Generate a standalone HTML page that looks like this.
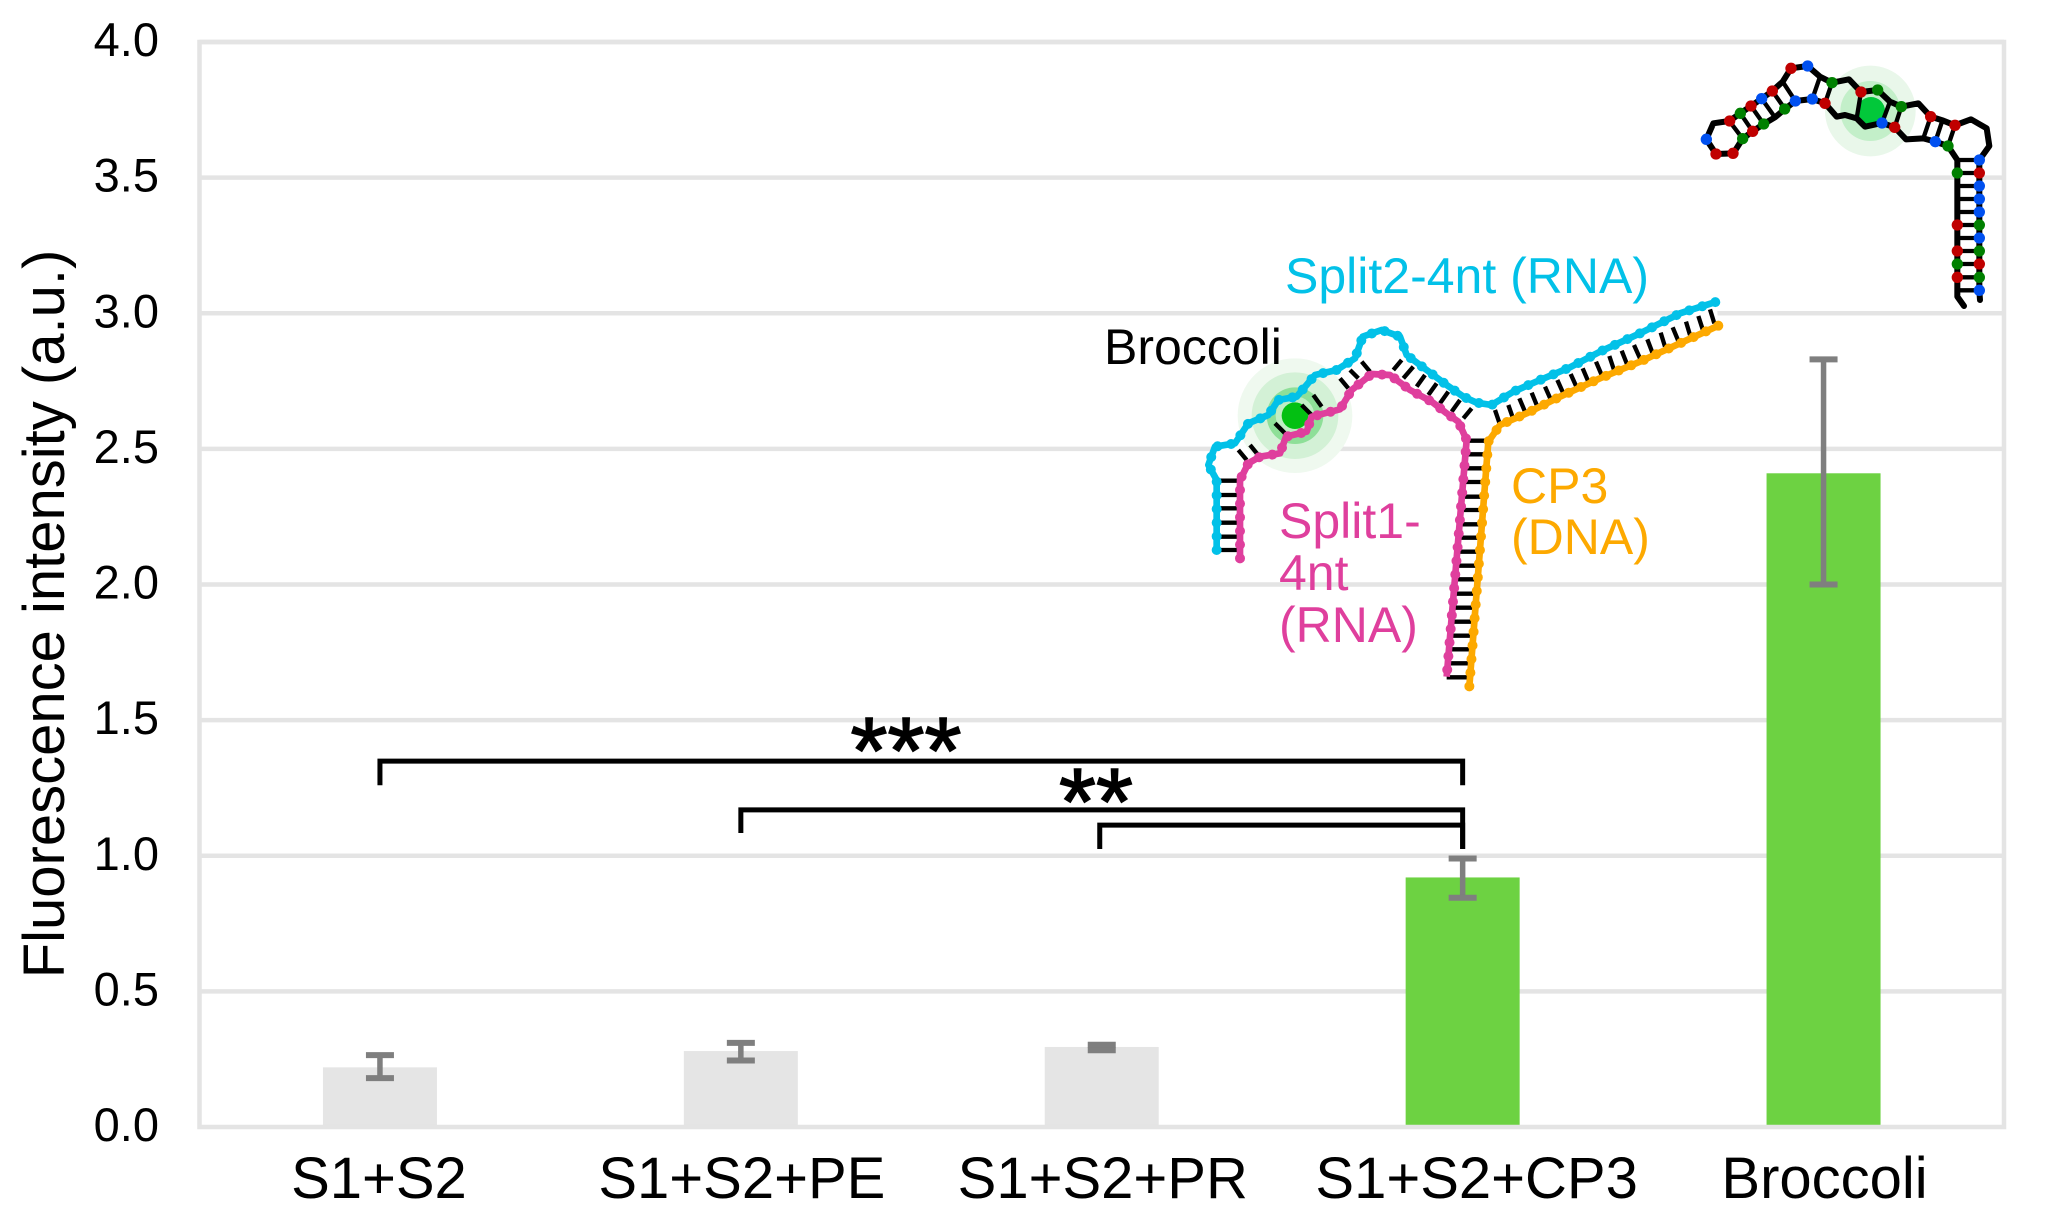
<!DOCTYPE html>
<html lang="en">
<head>
<meta charset="utf-8">
<title>Fluorescence intensity chart</title>
<style>
html,body{margin:0;padding:0;background:#fff;}
svg{display:block;font-family:"Liberation Sans",Arial,sans-serif;}
</style>
</head>
<body>
<svg id="chart" xmlns="http://www.w3.org/2000/svg" width="2046" height="1220" viewBox="0 0 2046 1220">
  <rect x="0" y="0" width="2046" height="1220" fill="#fff"/>
  <g id="grid"></g>
  <g id="bars"></g>
  <g id="axes"></g>
  <g id="errors"></g>
  <g id="ylabels" font-size="47" fill="#000" text-anchor="end"></g>
  <g id="xlabels" font-size="58" fill="#000" text-anchor="middle"></g>
  <text transform="translate(64,614) rotate(-90)" font-size="58" text-anchor="middle" fill="#000">Fluorescence intensity (a.u.)</text>
  <g id="brackets" fill="none" stroke="#000" stroke-width="5"></g>
  <text x="906" y="783" font-size="95" text-anchor="middle" fill="#000" stroke="#000" stroke-width="1.5">***</text>
  <text x="1096" y="834" font-size="95" text-anchor="middle" fill="#000" stroke="#000" stroke-width="1.5">**</text>

  <!-- Split Broccoli schematic -->
  <g transform="translate(1180,250) scale(0.33333)">
    <polygon fill="#fff" points="110,900 110,690 85,645 105,590 165,580 205,520 265,495 295,450 350,440 405,375 470,360 525,325 548,260 605,240 660,260 680,315 740,360 800,405 850,440 890,458 935,465 1000,425 1080,390 1170,352 1260,305 1380,250 1500,190 1610,155 1615,227 1500,280 1380,335 1260,385 1140,440 1040,490 960,525 925,575 868,1310 800,1280 858,570 835,515 800,490 755,455 690,420 630,375 575,372 515,420 480,478 395,500 380,545 318,560 300,610 240,620 205,640 180,690 180,925"/>
    <g>
      <circle cx="345" cy="497" r="172" fill="#eff9ef"/>
      <circle cx="345" cy="497" r="130" fill="#d3f1d6"/>
      <circle cx="345" cy="497" r="85" fill="#8edf98"/>
      <circle cx="345" cy="497" r="58" fill="#c0eec4"/>
      <circle cx="345" cy="497" r="40" fill="#03c012"/>
    </g>
    <path fill="none" stroke="#000" stroke-width="13" d="M110 692H180M110 735H180M110 775H180M110 818H180M110 860H180M110 900H180M175 600L200 630M210 585L232 612M285 520L315 550M365 465L395 495M400 435L425 470M480 385L505 415M510 360L535 385M545 335L570 365M640 360L665 330M670 385L700 350M710 410L735 375M745 435L770 400M780 460L805 425M815 485L840 450M850 505L875 475"/>
    <g transform="translate(600,90)">
      <path fill="none" stroke="#000" stroke-width="13" d="M258 482H325M254 523H322M251 565H318M248 606H315M244 650H311M241 690H308M237 733H305M234 773H301M231 815H298M227 857H295M224 898H291M220 941H288M217 983H285M213 1025H281M210 1067H278M207 1108H275M203 1150H271M200 1192H268M345 390L358 428M385 375L398 412M418 355L435 395M455 338L470 375M495 320L512 358M532 300L550 340M572 282L590 322M608 265L625 305M648 245L665 285M688 228L702 270M725 212L742 255M762 195L780 235M802 178L818 220M842 158L855 200M878 142L895 183M918 125L930 165M955 108L968 148M990 88L1003 130"/>
    </g>
    <g fill="none" stroke="#df3f9d" stroke-linejoin="round">
      <polyline stroke-width="20" points="180,925 180,690 205,640 240,620 300,610 318,560 380,545 395,500 480,478 515,420 575,372 630,375 690,420 755,455 800,490 835,515 860,570 800,1280"/>
      <polyline stroke-width="30" stroke-linecap="round" stroke-dasharray="0 41" points="180,925 180,690 205,640 240,620 300,610 318,560 380,545 395,500 480,478 515,420 575,372 630,375 690,420 755,455 800,490 835,515 860,570 800,1280"/>
    </g>
    <g fill="none" stroke="#02c1e8" stroke-linejoin="round">
      <polyline stroke-width="20" points="110,900 110,690 85,645 105,590 165,580 205,520 265,495 295,450 350,440 405,375 470,360 525,325 548,260 605,240 660,260 680,315 740,360 800,405 850,440 890,458 935,465 1000,425 1080,390 1170,352 1260,305 1380,250 1500,190 1610,155"/>
      <polyline stroke-width="30" stroke-linecap="round" stroke-dasharray="0 41" points="110,900 110,690 85,645 105,590 165,580 205,520 265,495 295,450 350,440 405,375 470,360 525,325 548,260 605,240 660,260 680,315 740,360 800,405 850,440 890,458 935,465 1000,425 1080,390 1170,352 1260,305 1380,250 1500,190 1610,155"/>
    </g>
    <g fill="none" stroke="#fda900" stroke-linejoin="round">
      <polyline stroke-width="20" points="1615,227 1500,280 1380,335 1260,385 1140,440 1040,490 960,525 925,575 868,1310"/>
      <polyline stroke-width="30" stroke-linecap="round" stroke-dasharray="0 41" points="1615,227 1500,280 1380,335 1260,385 1140,440 1040,490 960,525 925,575 868,1310"/>
    </g>
  </g>

  <text x="1285" y="293" font-size="50" fill="#02c1e8">Split2-4nt (RNA)</text>
  <text x="1104" y="364" font-size="50" fill="#000">Broccoli</text>
  <text font-size="50" fill="#df3f9d"><tspan x="1279" y="538">Split1-</tspan><tspan x="1279" y="590">4nt</tspan><tspan x="1279" y="642">(RNA)</tspan></text>
  <text font-size="50" fill="#fda900"><tspan x="1511" y="503">CP3</tspan><tspan x="1511" y="554">(DNA)</tspan></text>

  <!-- Intact Broccoli schematic -->
  <g transform="translate(1660,30) scale(0.33333)">
    <polygon fill="#fff" points="892,800 892,390 864,348 826,335 738,328 704,292 666,279 615,290 590,265 530,260 495,220 457,207 406,213 345,262 278,304 248,326 220,370 168,372 139,328 160,280 208,273 305,206 368,155 393,115 443,108 480,140 516,158 567,148 603,186 653,180 690,215 724,230 775,220 812,260 885,286 933,268 980,295 988,348 958,390 958,800"/>
    <g>
      <circle cx="631" cy="243" r="136" fill="#e9f7ea"/>
      <circle cx="631" cy="243" r="90" fill="#c3efc9"/>
      <circle cx="633" cy="243" r="42" fill="#02c83a"/>
    </g>
    <path fill="none" stroke="#000" stroke-width="13" d="M892 390H958M892 429H958M892 468H958M892 507H958M892 546H958M892 585H958M892 624H958M892 663H958M892 702H958M892 742H958M892 781H958M885 286L864 348M847 272L826 335M812 260L790 325M724 230L704 292M690 215L666 279M603 186L590 265M516 158L495 220M480 140L457 207M368 155L406 213M337 183L375 237M305 206L345 262M273 228L311 282M241 250L278 304M208 273L248 326"/>
    <polyline fill="none" stroke="#000" stroke-width="18" stroke-linejoin="round" stroke-linecap="round" points="912,828 892,800 892,390 864,348 826,335 790,325 738,328 704,292 666,279 615,290 590,265 555,255 530,260 495,220 457,207 406,213 375,237 345,262 311,282 278,304 248,326 220,370 168,372 139,328 160,280 208,273 241,250 273,228 305,206 337,183 368,155 393,115 443,108 480,140 516,158 567,148 603,186 653,180 690,215 724,230 775,220 812,260 850,272 885,286 933,268 980,295 988,348 958,390 958,782 960,810"/>
    <g fill="#c00000">
      <circle cx="393" cy="115" r="17"/><circle cx="168" cy="372" r="17"/><circle cx="219" cy="370" r="17"/><circle cx="209" cy="273" r="17"/><circle cx="273" cy="228" r="17"/><circle cx="337" cy="183" r="17"/><circle cx="278" cy="304" r="17"/><circle cx="495" cy="220" r="17"/><circle cx="603" cy="186" r="17"/><circle cx="704" cy="292" r="17"/><circle cx="812" cy="260" r="17"/><circle cx="885" cy="286" r="17"/><circle cx="958" cy="429" r="17"/><circle cx="892" cy="585" r="17"/><circle cx="892" cy="663" r="17"/><circle cx="958" cy="702" r="17"/><circle cx="892" cy="742" r="17"/>
    </g>
    <g fill="#0050f0">
      <circle cx="443" cy="108" r="17"/><circle cx="139" cy="328" r="17"/><circle cx="305" cy="206" r="17"/><circle cx="406" cy="213" r="17"/><circle cx="457" cy="207" r="17"/><circle cx="666" cy="279" r="17"/><circle cx="826" cy="335" r="17"/><circle cx="958" cy="390" r="17"/><circle cx="958" cy="468" r="17"/><circle cx="958" cy="507" r="17"/><circle cx="958" cy="546" r="17"/><circle cx="958" cy="624" r="17"/><circle cx="958" cy="781" r="17"/>
    </g>
    <g fill="#008000">
      <circle cx="516" cy="158" r="17"/><circle cx="653" cy="180" r="17"/><circle cx="241" cy="250" r="17"/><circle cx="374" cy="237" r="17"/><circle cx="311" cy="282" r="17"/><circle cx="248" cy="326" r="17"/><circle cx="724" cy="230" r="17"/><circle cx="864" cy="348" r="17"/><circle cx="892" cy="429" r="17"/><circle cx="958" cy="585" r="17"/><circle cx="958" cy="663" r="17"/><circle cx="892" cy="702" r="17"/><circle cx="958" cy="742" r="17"/>
    </g>
  </g>
</svg>
<script>
const categories = ["S1+S2", "S1+S2+PE", "S1+S2+PR", "S1+S2+CP3", "Broccoli"];
const means = [0.22, 0.28, 0.295, 0.92, 2.41];
const errLow = [0.18, 0.245, 0.283, 0.845, 2.0];
const errHigh = [0.265, 0.31, 0.303, 0.99, 2.83];
const barGroups = ["control", "control", "control", "active", "active"];
const yTickValues = [0, 0.5, 1, 1.5, 2, 2.5, 3, 3.5, 4];
const yTickLabels = ["0.0", "0.5", "1.0", "1.5", "2.0", "2.5", "3.0", "3.5", "4.0"];
const bracketFrom = [0, 1, 2];
const bracketTo = [3, 3, 3];
const bracketLevel = [1.349, 1.169, 1.113];
const bracketFoot = [1.26, 1.084, 1.025];

const NS = "http://www.w3.org/2000/svg";
const plotLeft = 199.5, plotRight = 2004, plotTop = 42, plotBottom = 1127;
const yMax = 4, barWidth = 114, capWidth = 28;
function yScale(v) { return plotBottom - (v / yMax) * (plotBottom - plotTop); }
function xScale(i) { return plotLeft + (i + 0.5) * (plotRight - plotLeft) / categories.length; }
function labelShift(i) { return i === 3 ? 14 : (i === 0 ? -1 : 1); }
function make(tag, attrs) {
  const el = document.createElementNS(NS, tag);
  for (const k in attrs) el.setAttribute(k, attrs[k]);
  return el;
}
const gridG = document.getElementById("grid");
const barsG = document.getElementById("bars");
const axesG = document.getElementById("axes");
const errorsG = document.getElementById("errors");
const yLabG = document.getElementById("ylabels");
const xLabG = document.getElementById("xlabels");
const brG = document.getElementById("brackets");
const frameColor = "#e4e4e4";

yTickValues.forEach(function (v, i) {
  if (v !== 0) {
    const g = make("line", {x1: plotLeft, x2: plotRight, y1: yScale(v), y2: yScale(v), stroke: frameColor, "stroke-width": 4.5});
    
    
    gridG.appendChild(g);
  }
  const t = make("text", {x: 159, y: yScale(v) + 14});
  
  
  t.textContent = yTickLabels[i];
  yLabG.appendChild(t);
});

categories.forEach(function (c, i) {
  const cx = xScale(i);
  const b = make("rect", {x: cx - barWidth / 2, y: yScale(means[i]), width: barWidth, height: yScale(0) - yScale(means[i]), fill: barGroups[i] === "active" ? "#6dd242" : "#e5e5e5"});
  
  
  barsG.appendChild(b);

  const stem = make("line", {x1: cx, x2: cx, y1: yScale(errHigh[i]), y2: yScale(errLow[i]), stroke: "#7f7f7f", "stroke-width": 5.5});
  
  
  errorsG.appendChild(stem);
  [errHigh[i], errLow[i]].forEach(function (e) {
    const cap = make("line", {x1: cx - capWidth / 2, x2: cx + capWidth / 2, y1: yScale(e), y2: yScale(e), stroke: "#7f7f7f", "stroke-width": 6});
    
    
    errorsG.appendChild(cap);
  });

  const t = make("text", {x: cx + labelShift(i), y: 1198});
  
  
  t.textContent = c;
  xLabG.appendChild(t);
});

const frame = make("path", {d: "M" + plotLeft + " " + plotBottom + "V" + plotTop + "H" + plotRight + "V" + plotBottom + "Z", fill: "none", stroke: frameColor, "stroke-width": 4.5});


axesG.appendChild(frame);

bracketFrom.forEach(function (from, i) {
  const xa = xScale(from) - (i === 2 ? 2 : 0), xb = xScale(bracketTo[i]);
  const yl = yScale(bracketLevel[i]), yf = yScale(bracketFoot[i]);
  const yr = i === 0 ? yf : yScale(bracketFoot[2]);
  const p = make("path", {d: "M" + xa + " " + yf + "V" + yl + "H" + xb + "V" + yr});
  
  
  brG.appendChild(p);
});
</script>
</body>
</html>
